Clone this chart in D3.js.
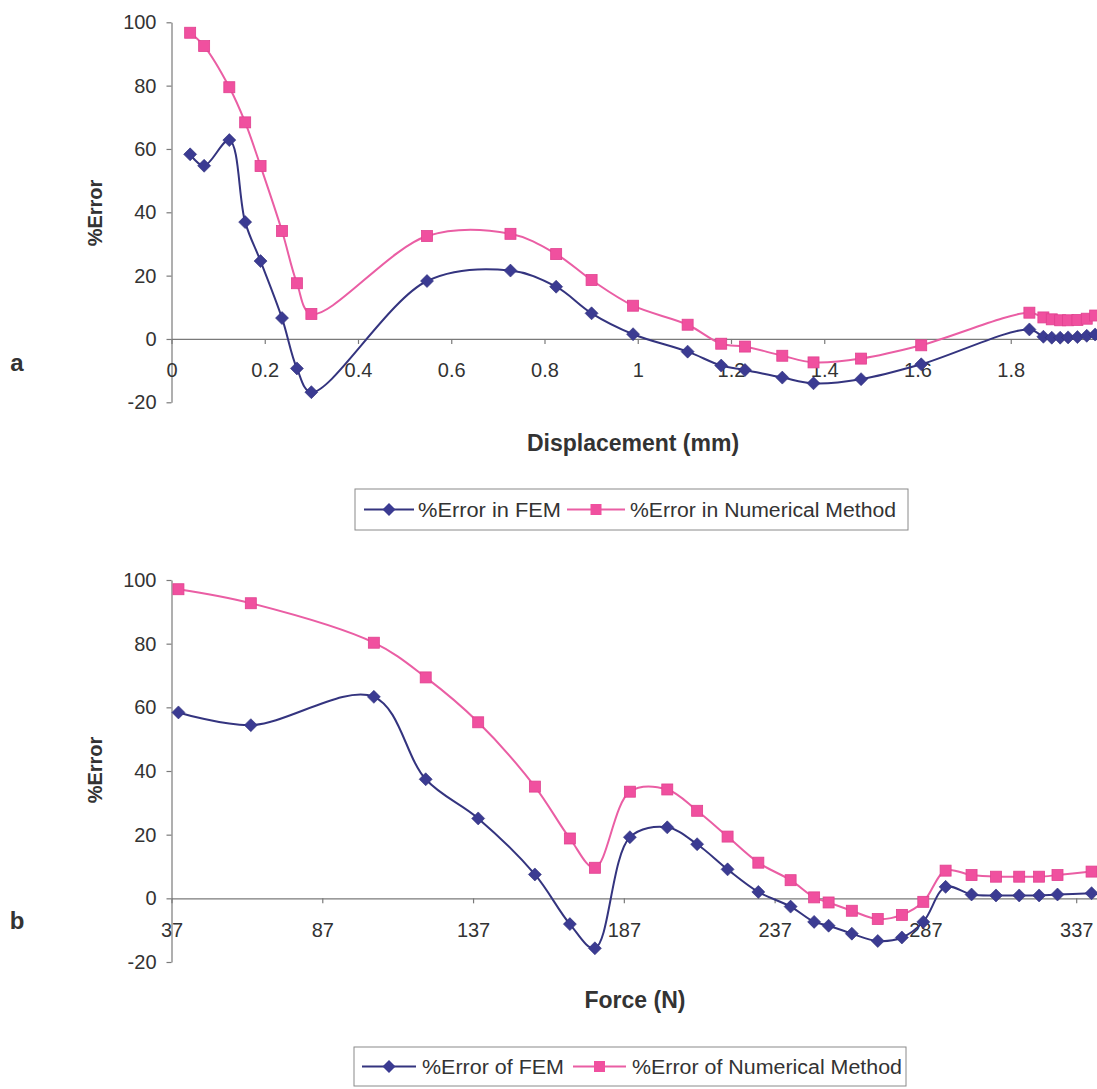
<!DOCTYPE html>
<html>
<head>
<meta charset="utf-8">
<script src="https://cdn.jsdelivr.net/npm/d3@7"></script>
<style>
  html, body { margin: 0; padding: 0; background: #ffffff; }
  svg { display: block; font-family: "Liberation Sans", Arial, sans-serif; }
  .tick text { fill: #333; }
</style>
</head>
<body>
<svg id="chart" width="1097" height="1089"></svg>
<script>
// ---------- Data ----------
// Chart a: %Error vs Displacement (mm)
const displacementA = [0.040, 0.070, 0.124, 0.158, 0.191, 0.237, 0.269, 0.300, 0.548, 0.727, 0.825, 0.901, 0.990, 1.107, 1.179, 1.230, 1.310, 1.377, 1.479, 1.608, 1.840, 1.870, 1.888, 1.906, 1.923, 1.943, 1.963, 1.981];
const femErrorA = [58.3, 54.7, 62.8, 36.9, 24.6, 6.6, -9.3, -16.8, 18.3, 21.6, 16.5, 8.1, 1.5, -4.0, -8.4, -9.8, -12.2, -14.0, -12.7, -8.0, 3.0, 0.7, 0.4, 0.4, 0.5, 0.6, 1.0, 1.4];
const numErrorA = [96.7, 92.5, 79.5, 68.4, 54.6, 34.1, 17.6, 7.9, 32.5, 33.2, 26.8, 18.6, 10.5, 4.5, -1.5, -2.4, -5.3, -7.4, -6.2, -2.0, 8.3, 6.8, 6.2, 5.9, 5.9, 6.0, 6.4, 7.4];
const xTicksA = [0, 0.2, 0.4, 0.6, 0.8, 1, 1.2, 1.4, 1.6, 1.8];
const xTickLabelsA = ["0", "0.2", "0.4", "0.6", "0.8", "1", "1.2", "1.4", "1.6", "1.8"];

// Chart b: %Error vs Force (N)
const forceB = [39.3, 63.3, 104.1, 121.3, 138.7, 157.5, 169.1, 177.4, 189.0, 201.4, 211.3, 221.4, 231.6, 242.3, 250.1, 254.9, 262.6, 271.2, 279.2, 286.3, 293.7, 302.3, 310.4, 318.1, 324.7, 330.8, 342.1];
const femErrorB = [58.4, 54.4, 63.3, 37.4, 25.1, 7.5, -8.1, -15.7, 19.2, 22.3, 17.0, 9.1, 2.0, -2.6, -7.4, -8.6, -11.1, -13.4, -12.3, -7.4, 3.6, 1.2, 0.9, 0.9, 0.9, 1.2, 1.6];
const numErrorB = [97.1, 92.7, 80.3, 69.4, 55.3, 35.1, 18.8, 9.6, 33.5, 34.2, 27.5, 19.4, 11.2, 5.7, 0.3, -1.3, -3.9, -6.5, -5.2, -1.1, 8.7, 7.3, 6.8, 6.8, 6.8, 7.3, 8.4];
const xTicksB = [37, 87, 137, 187, 237, 287, 337];
const xTickLabelsB = ["37", "87", "137", "187", "237", "287", "337"];

const yTicks = [-20, 0, 20, 40, 60, 80, 100];
const yTickLabels = ["-20", "0", "20", "40", "60", "80", "100"];

const legendA = ["%Error in FEM", "%Error in Numerical Method"];
const legendB = ["%Error of FEM", "%Error of Numerical Method"];

// ---------- Styles ----------
const BLUE_LINE = "#34347f";
const BLUE_FILL = "#3b3b92";
const PINK_LINE = "#ea5ea4";
const PINK_FILL = "#f0509f";
const AXIS = "#7a7a7a";
const TEXT = "#333333";

const svg = d3.select("#chart");
svg.append("rect").attr("width", 1097).attr("height", 1089).attr("fill", "#ffffff");

const diamondPath = "M0,-6.5L6.5,0L0,6.5L-6.5,0Z";

function drawPanel(cfg) {
  const g = svg.append("g");
  const x = d3.scaleLinear().domain(cfg.xDomain).range([171.5, 1097]);
  const y = d3.scaleLinear().domain([-20, 100]).range(cfg.yRange);

  // y axis
  const yAxis = d3.axisLeft(y)
    .tickValues(yTicks)
    .tickFormat((d, i) => yTickLabels[i])
    .tickSize(5).tickSizeOuter(0).tickPadding(10);
  const ya = g.append("g").attr("transform", `translate(${x.range()[0]},0)`).call(yAxis);
  ya.select(".domain").attr("stroke", AXIS).attr("stroke-width", 1.2);
  ya.selectAll(".tick line").attr("stroke", AXIS).attr("stroke-width", 1.2);
  ya.selectAll(".tick text").attr("font-size", 20).attr("fill", TEXT);

  // x axis crossing at 0
  const xAxis = d3.axisBottom(x)
    .tickValues(cfg.xTicks)
    .tickFormat((d, i) => cfg.xTickLabels[i])
    .tickSize(5).tickSizeOuter(0).tickPadding(19);
  const xa = g.append("g").attr("transform", `translate(0,${y(0)})`).call(xAxis);
  xa.select(".domain").attr("stroke", AXIS).attr("stroke-width", 1.2);
  xa.selectAll(".tick line").attr("stroke", AXIS).attr("stroke-width", 1.2);
  xa.selectAll(".tick text").attr("font-size", 20).attr("fill", TEXT);

  const line = d3.line()
    .x(d => x(d[0])).y(d => y(d[1]))
    .curve(d3.curveCatmullRom.alpha(0.5));

  const femPts = cfg.xs.map((v, i) => [v, cfg.fem[i]]);
  const numPts = cfg.xs.map((v, i) => [v, cfg.num[i]]);

  g.append("path").datum(numPts).attr("d", line)
    .attr("fill", "none").attr("stroke", PINK_LINE).attr("stroke-width", 2);
  g.append("path").datum(femPts).attr("d", line)
    .attr("fill", "none").attr("stroke", BLUE_LINE).attr("stroke-width", 2);

  g.selectAll(".sq").data(numPts).enter().append("rect")
    .attr("x", d => x(d[0]) - 5.5).attr("y", d => y(d[1]) - 5.5)
    .attr("width", 11).attr("height", 11)
    .attr("fill", PINK_FILL).attr("stroke", "#e0418f").attr("stroke-width", 0.8);
  g.selectAll(".dm").data(femPts).enter().append("path")
    .attr("d", diamondPath)
    .attr("transform", d => `translate(${x(d[0])},${y(d[1])})`)
    .attr("fill", BLUE_FILL).attr("stroke", "#2f2f7a").attr("stroke-width", 0.6);

  // y title
  g.append("text")
    .attr("transform", `translate(${cfg.yTitlePos[0]},${cfg.yTitlePos[1]}) rotate(-90)`)
    .attr("text-anchor", "middle").attr("dominant-baseline", "central")
    .attr("font-size", 20).attr("font-weight", "bold").attr("fill", TEXT)
    .text("%Error");

  // x title
  g.append("text")
    .attr("x", cfg.xTitlePos[0]).attr("y", cfg.xTitlePos[1])
    .attr("text-anchor", "middle").attr("dominant-baseline", "central")
    .attr("font-size", 23).attr("font-weight", "bold").attr("fill", TEXT)
    .text(cfg.xTitle);

  // panel letter
  g.append("text")
    .attr("x", 17).attr("y", cfg.letterY)
    .attr("text-anchor", "middle")
    .attr("font-size", 24).attr("font-weight", "bold").attr("fill", TEXT)
    .text(cfg.letter);

  // legend
  const L = cfg.legend;
  g.append("rect").attr("x", L.box[0]).attr("y", L.box[1])
    .attr("width", L.box[2]).attr("height", L.box[3])
    .attr("fill", "#ffffff").attr("stroke", "#8a8a8a").attr("stroke-width", 1);
  const cy = L.box[1] + L.box[3] / 2;
  g.append("line").attr("x1", L.blue[0]).attr("x2", L.blue[1]).attr("y1", cy).attr("y2", cy)
    .attr("stroke", BLUE_LINE).attr("stroke-width", 2);
  g.append("path").attr("d", diamondPath)
    .attr("transform", `translate(${(L.blue[0] + L.blue[1]) / 2},${cy})`)
    .attr("fill", BLUE_FILL);
  g.append("text").attr("x", L.blue[2]).attr("y", cy)
    .attr("dominant-baseline", "central").attr("font-size", 20).attr("fill", TEXT)
    .attr("textLength", L.blue[3]).attr("lengthAdjust", "spacingAndGlyphs")
    .text(L.labels[0]);
  g.append("line").attr("x1", L.pink[0]).attr("x2", L.pink[1]).attr("y1", cy).attr("y2", cy)
    .attr("stroke", PINK_LINE).attr("stroke-width", 2);
  g.append("rect")
    .attr("x", (L.pink[0] + L.pink[1]) / 2 - 5.5).attr("y", cy - 5.5)
    .attr("width", 11).attr("height", 11).attr("fill", PINK_FILL);
  g.append("text").attr("x", L.pink[2]).attr("y", cy)
    .attr("dominant-baseline", "central").attr("font-size", 20).attr("fill", TEXT)
    .attr("textLength", L.pink[3]).attr("lengthAdjust", "spacingAndGlyphs")
    .text(L.labels[1]);
}

drawPanel({
  xDomain: [0, 1.985],
  yRange: [402.3, 22.3],
  xTicks: xTicksA, xTickLabels: xTickLabelsA,
  xs: displacementA, fem: femErrorA, num: numErrorA,
  yTitlePos: [95, 213],
  xTitlePos: [633, 443], xTitle: "Displacement (mm)",
  letter: "a", letterY: 371,
  legend: {
    box: [355, 489, 553, 41],
    blue: [364, 414, 418, 143],
    pink: [567, 625, 630, 266],
    labels: legendA
  }
});

drawPanel({
  xDomain: [37, 343.9],
  yRange: [962, 580],
  xTicks: xTicksB, xTickLabels: xTickLabelsB,
  xs: forceB, fem: femErrorB, num: numErrorB,
  yTitlePos: [95, 770],
  xTitlePos: [635, 1000], xTitle: "Force (N)",
  letter: "b", letterY: 929,
  legend: {
    box: [354, 1047, 552, 39],
    blue: [362, 416, 422, 142],
    pink: [573, 626, 632, 270],
    labels: legendB
  }
});
</script>
</body>
</html>
